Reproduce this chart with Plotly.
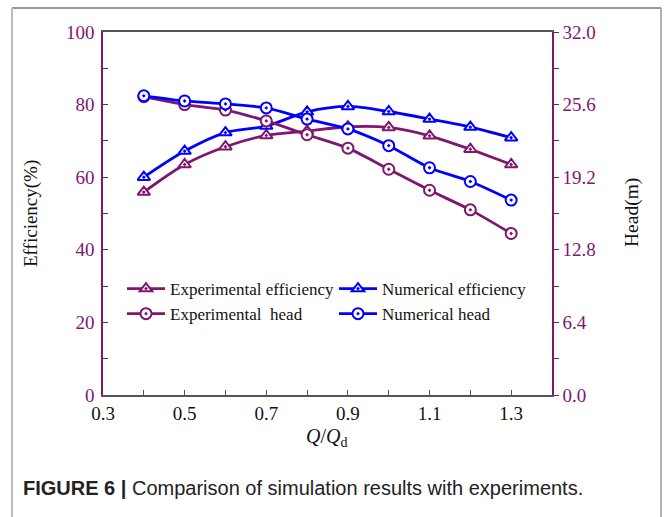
import plotly.graph_objects as go

# ---- data ----
q = [0.4, 0.5, 0.6, 0.7, 0.8, 0.9, 1.0, 1.1, 1.2, 1.3]
exp_eff = [55.9, 63.5, 68.4, 71.5, 72.7, 73.9, 73.7, 71.4, 67.7, 63.5]
num_eff = [60.0, 67.2, 72.3, 74.1, 78.0, 79.5, 78.1, 76.0, 73.8, 70.9]
exp_head = [26.30, 25.60, 25.12, 24.16, 22.94, 21.76, 19.90, 18.05, 16.32, 14.24]
num_head = [26.37, 25.92, 25.66, 25.31, 24.32, 23.46, 21.98, 20.03, 18.82, 17.18]

PURPLE = "#7f1670"
BLUE = "#0000ff"
SERIF = "Liberation Serif"

W, H = 664, 517
L, R, T, B = 103, 112, 32, 122
PW = W - L - R
PH = H - T - B


def px2x(px):
    return (px - L) / PW


def py2y(py):
    return (H - B - py) / PH


fig = go.Figure()


def add(name, x, y, color, symbol, yaxis, legend):
    fig.add_trace(go.Scatter(
        x=x, y=y, name=name, mode="lines+markers",
        line=dict(color=color, width=2.8, shape="spline", smoothing=0.8),
        marker=dict(symbol=symbol, size=11, color="white",
                    line=dict(color=color, width=2)),
        yaxis=yaxis, legend=legend,
    ))


add("Experimental efficiency", q, exp_eff, PURPLE, "triangle-up-dot", "y", "legend")
add("Experimental  head", q, exp_head, PURPLE, "circle-dot", "y2", "legend")
add("Numerical efficiency", q, num_eff, BLUE, "triangle-up-dot", "y", "legend2")
add("Numerical head", q, num_head, BLUE, "circle-dot", "y2", "legend2")

leg_common = dict(
    bgcolor="rgba(0,0,0,0)", font=dict(family=SERIF, size=17, color="#111"),
    orientation="v", tracegroupgap=0, xanchor="left", yanchor="top",
    itemwidth=38,
)

fig.update_layout(
    width=W, height=H,
    margin=dict(l=L, r=R, t=T, b=B),
    paper_bgcolor="white", plot_bgcolor="white",
    font=dict(family=SERIF, size=19, color="#111"),
    showlegend=True,
    legend=dict(x=px2x(122), y=py2y(271), **leg_common),
    legend2=dict(x=px2x(334), y=py2y(271), **leg_common),
    xaxis=dict(
        range=[0.3, 1.4], tick0=0.3, dtick=0.2, showgrid=False, zeroline=False,
        showline=True, linecolor="#555", linewidth=1.5, mirror=True,
        ticks="inside", ticklen=5, tickcolor="#555", tickwidth=1,
        tickfont=dict(family=SERIF, size=19, color="#111"),
        minor=dict(dtick=0.1, ticks="inside", ticklen=5, tickcolor="#555"),
    ),
    yaxis=dict(
        range=[0, 100], dtick=20, showgrid=False, zeroline=False,
        showline=True, linecolor=PURPLE, linewidth=1.5,
        ticks="inside", ticklen=5, tickcolor=PURPLE, tickwidth=1,
        ticklabelstandoff=3,
        tickfont=dict(family=SERIF, size=19, color=PURPLE),
        minor=dict(dtick=10, ticks="inside", ticklen=5, tickcolor=PURPLE),
    ),
    yaxis2=dict(
        range=[0, 32], tick0=0, dtick=6.4, tickformat=".1f", overlaying="y",
        side="right", showgrid=False, zeroline=False,
        showline=True, linecolor=PURPLE, linewidth=1.5,
        ticks="outside", ticklen=5, tickcolor=PURPLE, tickwidth=1,
        tickfont=dict(family=SERIF, size=19, color=PURPLE),
        minor=dict(dtick=3.2, ticks="outside", ticklen=5, tickcolor=PURPLE),
    ),
)

annotations = [
    dict(text="Efficiency(%)", x=px2x(31), y=py2y(214), textangle=-90,
         font=dict(family=SERIF, size=19, color="#111")),
    dict(text="Head(m)", x=px2x(632), y=py2y(213), textangle=-90,
         font=dict(family=SERIF, size=19.5, color="#111")),
    dict(text="<i>Q</i>/<i>Q</i><sub>d</sub>", x=px2x(326), y=py2y(437),
         font=dict(family=SERIF, size=20, color="#111")),
    dict(text="<b>FIGURE 6 |</b> Comparison of simulation results with experiments.",
         x=px2x(21), y=py2y(488), xanchor="left",
         font=dict(family="Liberation Sans", size=20, color="#222")),
]
for a in annotations:
    a.setdefault("xanchor", "center")
    a.update(xref="paper", yref="paper", yanchor="middle", showarrow=False)
fig.update_layout(annotations=annotations)

shapes = [
    dict(type="line", x0=px2x(12), x1=px2x(661), y0=py2y(8), y1=py2y(8),
         line=dict(color="#777", width=1.5)),
    dict(type="line", x0=px2x(12), x1=px2x(12), y0=py2y(8), y1=py2y(520),
         line=dict(color="#bbb", width=2)),
    dict(type="line", x0=px2x(661), x1=px2x(661), y0=py2y(8), y1=py2y(520),
         line=dict(color="#999", width=1.5)),
]
for s in shapes:
    s.update(xref="paper", yref="paper", layer="above")
fig.update_layout(shapes=shapes)

fig.write_html("out.html")
